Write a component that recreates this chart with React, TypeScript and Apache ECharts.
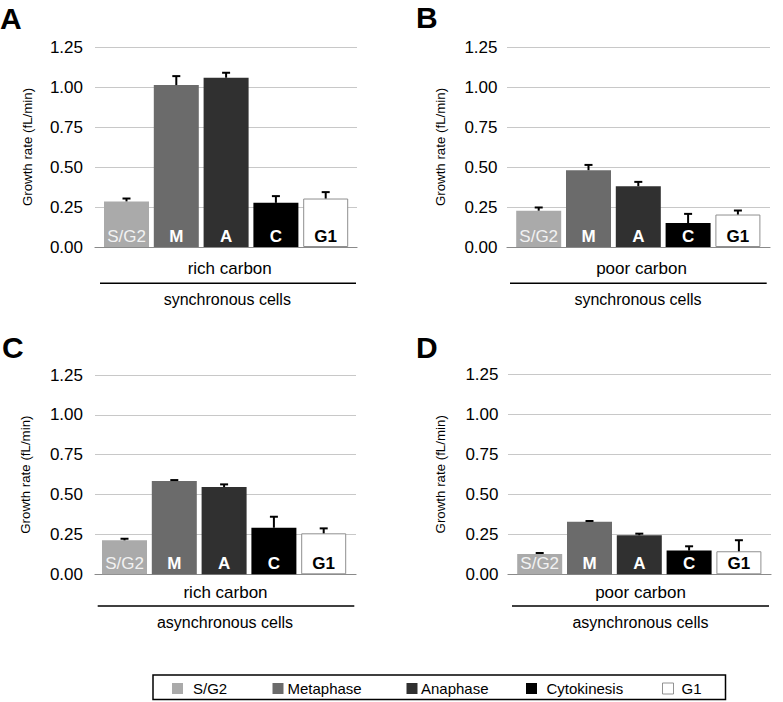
import React, { useEffect, useRef } from "react";
import * as echarts from "echarts";

const categories = ["S/G2", "M", "A", "C", "G1"];
const legendNames = ["S/G2", "Metaphase", "Anaphase", "Cytokinesis", "G1"];
const phaseColors = ["#aaaaaa", "#6b6b6b", "#303030", "#000000", "#ffffff"];
const yTickValues = [0, 0.25, 0.5, 0.75, 1.0, 1.25];
const yTickLabels = ["0.00", "0.25", "0.50", "0.75", "1.00", "1.25"];

const syncRich = [0.285, 1.012, 1.058, 0.276, 0.303];
const syncRichErr = [0.018, 0.056, 0.031, 0.042, 0.04];
const syncPoor = [0.227, 0.48, 0.38, 0.15, 0.203];
const syncPoorErr = [0.02, 0.033, 0.027, 0.057, 0.025];
const asyncRich = [0.213, 0.585, 0.547, 0.292, 0.257];
const asyncRichErr = [0.01, 0.006, 0.017, 0.069, 0.031];
const asyncPoor = [0.127, 0.329, 0.244, 0.148, 0.144];
const asyncPoorErr = [0.006, 0.004, 0.01, 0.027, 0.069];

const panelLetters = ["A", "B", "C", "D"];
const carbonLabels = ["rich carbon", "poor carbon", "rich carbon", "poor carbon"];
const cellLabels = ["synchronous cells", "synchronous cells", "asynchronous cells", "asynchronous cells"];
const yName = "Growth rate (fL/min)";

const FONT = "'Liberation Sans', Arial, Helvetica, sans-serif";

// layout (pixels)
const panels = [
  { values: syncRich, errs: syncRichErr, wide: [95, 357], top: 47, bottom: 247, barLeft: 101.6, labelMargin: 12, letter: [0, 18.5], sub: [229.7, 268], line: [100, 356, 283.3], cells: [227.3, 299.5], nameGap: 61 },
  { values: syncPoor, errs: syncPoorErr, wide: [507, 770], top: 47, bottom: 247, barLeft: 513.8, labelMargin: 9.5, letter: [416, 17.5], sub: [641.5, 268], line: [510, 766.7, 283.3], cells: [638, 299.5], nameGap: 60.5 },
  { values: asyncRich, errs: asyncRichErr, wide: [95, 356], top: 375, bottom: 574.3, barLeft: 99.6, labelMargin: 12, letter: [2, 347.5], sub: [225.5, 592.7], line: [97.7, 354.3, 606], cells: [225, 622.7], nameGap: 63 },
  { values: asyncPoor, errs: asyncPoorErr, wide: [508, 771], top: 374.3, bottom: 574.3, barLeft: 514.8, labelMargin: 9.5, letter: [416, 347.5], sub: [640.5, 592.7], line: [512, 769, 606], cells: [640.5, 622.7], nameGap: 61 },
];

const labelStyles = [
  { color: "#f2f2f2", fontWeight: "normal" },
  { color: "#ffffff", fontWeight: "bold" },
  { color: "#ffffff", fontWeight: "bold" },
  { color: "#ffffff", fontWeight: "bold" },
  { color: "#000000", fontWeight: "bold" },
];

export default function App() {
  const ref = useRef<HTMLDivElement>(null);
  useEffect(() => {
    document.body.style.margin = "0";
    if (!ref.current) return;
    const chart = echarts.init(ref.current, null, { renderer: "svg" });
    const grids: any[] = [];
    const xAxes: any[] = [];
    const yAxes: any[] = [];
    const series: any[] = [];
    const graphics: any[] = [];

    panels.forEach((p, i) => {
      const gw = 2 * i;
      const gb = 2 * i + 1;
      grids.push({ left: p.wide[0], width: p.wide[1] - p.wide[0], top: p.top, height: p.bottom - p.top, outerBoundsMode: "none", containLabel: false });
      grids.push({ left: p.barLeft, width: 249, top: p.top, height: p.bottom - p.top, outerBoundsMode: "none", containLabel: false });
      xAxes.push({
        gridIndex: gw, type: "category", data: [""],
        axisLine: { show: true, lineStyle: { color: "#8a8a8a", width: 1.2 } },
        axisTick: { show: false }, axisLabel: { show: false }, splitLine: { show: false },
      });
      xAxes.push({ gridIndex: gb, type: "category", data: categories, show: false });
      yAxes.push({
        gridIndex: gw, type: "value", min: 0, max: 1.25, interval: 0.25,
        axisLine: { show: false }, axisTick: { show: false },
        axisLabel: { show: false },
        splitLine: { show: true, lineStyle: { color: "#c8c8c8", width: 1 } },
        name: yName, nameLocation: "middle", nameGap: p.nameGap, nameMoveOverlap: false,
        nameTextStyle: { fontSize: 13.3, color: "#000", fontFamily: FONT },
      });
      yAxes.push({ gridIndex: gb, type: "value", min: 0, max: 1.25, interval: 0.25, show: false });

      series.push({
        type: "bar", xAxisIndex: gb, yAxisIndex: gb, barWidth: 45, z: 3,
        data: p.values.map((v, k) => ({
          value: v,
          itemStyle: {
            color: phaseColors[k],
            borderColor: k === 4 ? "#8f8f8f" : phaseColors[k],
            borderWidth: k === 4 ? 1 : 0,
          },
          label: { color: labelStyles[k].color, fontWeight: labelStyles[k].fontWeight },
        })),
        label: {
          show: true, position: "insideBottom", distance: 2, fontSize: 17, fontFamily: FONT,
          formatter: (prm: any) => categories[prm.dataIndex],
        },
      });
      series.push({
        type: "custom", xAxisIndex: gb, yAxisIndex: gb, z: 4,
        data: p.values.map((v, k) => [k, v, v + p.errs[k]]),
        renderItem: (params: any, api: any) => {
          const base = api.coord([api.value(0), api.value(1)]);
          const top = api.coord([api.value(0), api.value(2)]);
          const st = { stroke: "#000", lineWidth: 2 };
          return {
            type: "group",
            children: [
              { type: "line", shape: { x1: base[0], y1: base[1], x2: base[0], y2: top[1] }, style: st },
              { type: "line", shape: { x1: base[0] - 4, y1: top[1], x2: base[0] + 4, y2: top[1] }, style: st },
            ],
          };
        },
      });

      graphics.push({
        type: "text", x: p.letter[0], y: p.letter[1],
        style: { text: panelLetters[i], fontSize: 30, fontWeight: "bold", fill: "#000", fontFamily: FONT, verticalAlign: "middle", align: "left" },
      });
      graphics.push({
        type: "text", x: p.sub[0], y: p.sub[1],
        style: { text: carbonLabels[i], fontSize: 17, fill: "#000", fontFamily: FONT, align: "center", verticalAlign: "middle" },
      });
      graphics.push({
        type: "line", shape: { x1: p.line[0], y1: p.line[2], x2: p.line[1], y2: p.line[2] },
        style: { stroke: "#000", lineWidth: 1.6 },
      });
      graphics.push({
        type: "text", x: p.cells[0], y: p.cells[1],
        style: { text: cellLabels[i], fontSize: 16, fill: "#000", fontFamily: FONT, align: "center", verticalAlign: "middle" },
      });
    });

    // legend box
    graphics.push({
      type: "rect", shape: { x: 153, y: 675, width: 572.5, height: 24.5 },
      style: { fill: "#fff", stroke: "#000", lineWidth: 1.5 },
    });
    const legSq = [172, 272.5, 406.5, 526, 662.5];
    const legTx = [193, 287.5, 421, 546.5, 681.5];
    legendNames.forEach((n, k) => {
      graphics.push({
        type: "rect", shape: { x: legSq[k], y: 683, width: 11, height: 11 },
        style: { fill: phaseColors[k], stroke: k === 4 ? "#777" : phaseColors[k], lineWidth: k === 4 ? 0.8 : 0 },
      });
      graphics.push({
        type: "text", x: legTx[k], y: 688.5,
        style: { text: n, fontSize: 15, fill: "#000", fontFamily: FONT, verticalAlign: "middle", align: "left" },
      });
    });

    chart.setOption({
      animation: false,
      backgroundColor: "#ffffff",
      textStyle: { fontFamily: FONT },
      grid: grids,
      xAxis: xAxes,
      yAxis: yAxes,
      series,
    });

    // y tick labels placed through the axis scale
    panels.forEach((p, i) => {
      yTickValues.forEach((v, k) => {
        const py = chart.convertToPixel({ yAxisIndex: 2 * i } as any, v) as any;
        graphics.push({
          type: "text", x: p.wide[0] - p.labelMargin, y: typeof py === "number" ? py : py[1],
          style: { text: yTickLabels[k], fontSize: 17, fill: "#000", fontFamily: FONT, align: "right", verticalAlign: "middle" },
        });
      });
    });
    chart.setOption({ graphic: graphics });
    return () => chart.dispose();
  }, []);
  return <div ref={ref} style={{ width: 783, height: 702 }} />;
}
